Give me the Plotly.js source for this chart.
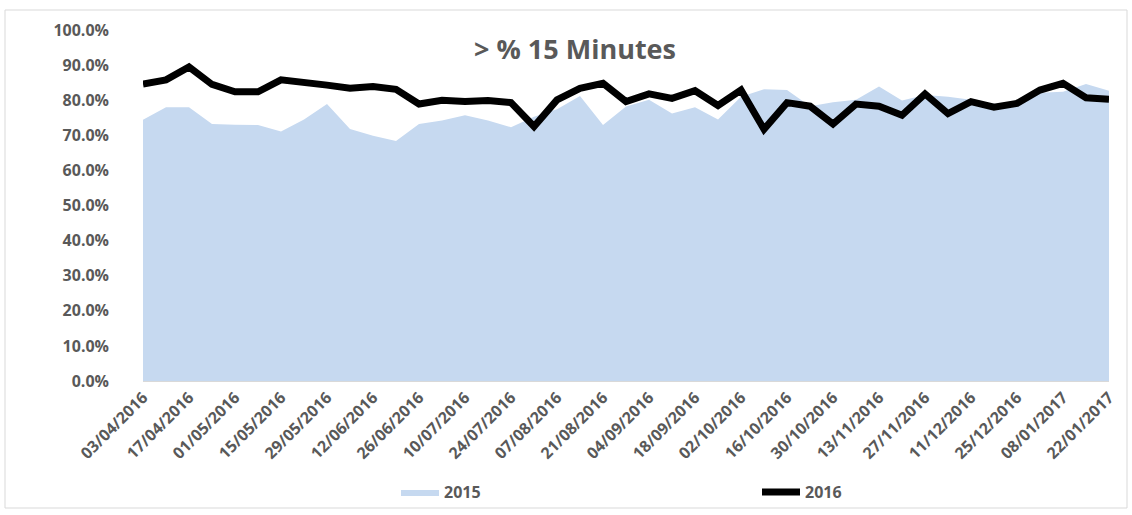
<!DOCTYPE html>
<html>
<head>
<meta charset="utf-8">
<script src="https://cdn.plot.ly/plotly-3.0.1.min.js"></script>
<style>html,body{margin:0;padding:0;background:#fff;}#chart{width:1132px;height:515px;}</style>
</head>
<body>
<div id="chart"></div>
<script>
const weeks = ["03/04/2016","10/04/2016","17/04/2016","24/04/2016","01/05/2016","08/05/2016","15/05/2016","22/05/2016","29/05/2016","05/06/2016","12/06/2016","19/06/2016","26/06/2016","03/07/2016","10/07/2016","17/07/2016","24/07/2016","31/07/2016","07/08/2016","14/08/2016","21/08/2016","28/08/2016","04/09/2016","11/09/2016","18/09/2016","25/09/2016","02/10/2016","09/10/2016","16/10/2016","23/10/2016","30/10/2016","06/11/2016","13/11/2016","20/11/2016","27/11/2016","04/12/2016","11/12/2016","18/12/2016","25/12/2016","01/01/2017","08/01/2017","15/01/2017","22/01/2017"];
const values2015 = [0.744,0.780,0.780,0.732,0.730,0.729,0.711,0.745,0.789,0.718,0.699,0.684,0.732,0.742,0.757,0.742,0.723,0.753,0.774,0.812,0.729,0.782,0.801,0.762,0.780,0.745,0.810,0.831,0.829,0.783,0.794,0.801,0.839,0.799,0.815,0.810,0.801,0.790,0.791,0.821,0.824,0.846,0.827];
const values2016 = [0.846,0.858,0.895,0.845,0.824,0.824,0.858,0.848,0.843,0.834,0.839,0.831,0.789,0.800,0.796,0.799,0.793,0.725,0.801,0.834,0.848,0.796,0.818,0.805,0.827,0.785,0.829,0.717,0.793,0.783,0.732,0.789,0.783,0.757,0.818,0.762,0.796,0.780,0.791,0.829,0.848,0.807,0.803];
const tickLabels = weeks.filter((d, i) => i % 2 === 0);

const gray = '#595959';
const fam = '"Open Sans", Lato, sans-serif';
const tickFont = {family: fam, size: 16, color: gray, weight: 'bold'};

const traces = [
  {x: weeks, y: values2015, name: '2015', type: 'scatter', mode: 'lines',
   fill: 'tozeroy', fillcolor: '#C6D9F0', line: {width: 0, color: '#C6D9F0'}},
  {x: weeks, y: values2016, name: '2016', type: 'scatter', mode: 'lines',
   line: {width: 7, color: '#000000'}}
];

const W = 966, H = 351;
const layout = {
  width: 1132, height: 515,
  margin: {l: 143, r: 23, t: 30, b: 134, pad: 0, autoexpand: false},
  paper_bgcolor: '#ffffff', plot_bgcolor: '#ffffff',
  font: tickFont,
  title: {text: '<b>> % 15 Minutes</b>', font: {family: fam, size: 27, color: gray},
          xref: 'container', yref: 'container', x: 575/1132, y: 1 - 50/515, xanchor: 'center', yanchor: 'middle'},
  xaxis: {type: 'category', range: [0, weeks.length - 1], tickvals: tickLabels, ticktext: tickLabels,
          tickangle: -45, showgrid: false, zeroline: false, showline: true, linecolor: '#D9D9D9', linewidth: 1,
          ticks: '', automargin: false, tickfont: tickFont},
  yaxis: {range: [0, 1], dtick: 0.1, tickformat: '.1%', showgrid: false, zeroline: false, showline: false,
          ticks: '', ticklabelstandoff: 33, automargin: false, tickfont: tickFont},
  showlegend: true,
  legend: {orientation: 'h', xref: 'container', yref: 'container', x: 396/1132, xanchor: 'left',
           y: 1 - 492/515, yanchor: 'middle',
           entrywidth: 308, entrywidthmode: 'pixels', itemwidth: 38,
           font: tickFont, bgcolor: 'rgba(0,0,0,0)'},
  shapes: [{type: 'rect', xref: 'paper', yref: 'paper',
            x0: (5-143)/W, x1: (1127-143)/W, y0: (381-508)/H, y1: (381-10)/H,
            line: {color: '#D9D9D9', width: 1}, fillcolor: 'rgba(0,0,0,0)', layer: 'below'}]
};

Plotly.newPlot('chart', traces, layout, {displayModeBar: false, staticPlot: true});
</script>
</body>
</html>
